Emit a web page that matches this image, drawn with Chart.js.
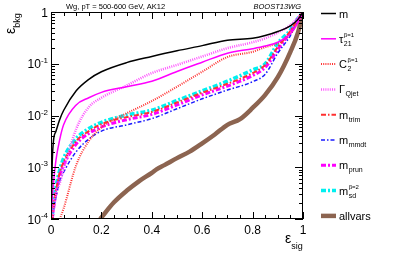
<!DOCTYPE html>
<html>
<head>
<meta charset="utf-8">
<script src="https://cdn.jsdelivr.net/npm/chart.js@4.4.1/dist/chart.umd.min.js"></script>
<style>
  html, body { margin: 0; padding: 0; background: #fff; }
  #wrap { width: 399px; height: 254px; position: relative; }
</style>
</head>
<body>
<div id="wrap"><canvas id="rocChart"></canvas></div>
<script>
// signal efficiency grid shared by the single-variable curves
const sigEff = [0, 0.005, 0.01, 0.02, 0.035, 0.05, 0.1, 0.15, 0.2, 0.3, 0.4, 0.5, 0.6, 0.7, 0.8, 0.85, 0.9, 0.95, 0.98, 1]

const bkgMass  = [1e-4, 1.3e-3, 3.3e-3, 5e-3, 8.5e-3, 0.0125, 0.030, 0.050, 0.070, 0.105, 0.138, 0.178, 0.224, 0.285, 0.31, 0.35, 0.42, 0.54, 0.72, 1]
const bkgTau21 = [1e-4, 2.5e-4, 5e-4, 1.4e-3, 3.5e-3, 6.6e-3, 0.016, 0.022, 0.028, 0.036, 0.046, 0.071, 0.107, 0.16, 0.195, 0.22, 0.26, 0.38, 0.63, 1]
const bkgC2    = [null, null, null, null, 1e-4, 1.6e-4, 1.1e-3, 3.2e-3, 5.9e-3, 0.011, 0.019, 0.036, 0.07, 0.135, 0.17, 0.21, 0.25, 0.38, 0.62, 1]
const bkgQjet  = [null, 1e-4, 1.4e-4, 3e-4, 5e-4, 9e-4, 5.5e-3, 0.0145, 0.022, 0.038, 0.066, 0.095, 0.138, 0.2, 0.26, 0.31, 0.4, 0.56, 0.78, 1]
const bkgTrim  = [null, 1e-4, 1.8e-4, 3.5e-4, 8e-4, 1.25e-3, 3.2e-3, 5e-3, 6.8e-3, 9.3e-3, 0.0117, 0.0178, 0.0275, 0.041, 0.066, 0.095, 0.21, 0.43, 0.74, 1]
const bkgMmdt  = [null, 1e-4, 1.5e-4, 2.7e-4, 5.5e-4, 8e-4, 2e-3, 3.5e-3, 5e-3, 6.6e-3, 8.7e-3, 0.0135, 0.021, 0.031, 0.045, 0.063, 0.16, 0.35, 0.68, 1]
const bkgPrun  = [null, 1e-4, 1.6e-4, 3.2e-4, 7e-4, 1.1e-3, 2.8e-3, 4.5e-3, 6e-3, 8.3e-3, 0.0105, 0.016, 0.025, 0.037, 0.059, 0.085, 0.19, 0.41, 0.72, 1]
const bkgSd    = [null, 1.1e-4, 2e-4, 4.2e-4, 9e-4, 1.5e-3, 3.6e-3, 5.6e-3, 7.4e-3, 0.0102, 0.0127, 0.0195, 0.030, 0.046, 0.076, 0.10, 0.25, 0.45, 0.76, 1]

// combined multivariate curve has its own grid
const allvarsEff = [0.195, 0.25, 0.3, 0.35, 0.4, 0.42, 0.45, 0.5, 0.55, 0.6, 0.65, 0.7, 0.75, 0.8, 0.85, 0.9, 0.95, 0.98, 1]
const allvarsBkg = [1e-4, 2.1e-4, 3.5e-4, 5.4e-4, 7.8e-4, 9.2e-4, 1.1e-3, 1.5e-3, 2e-3, 2.9e-3, 4.3e-3, 6.6e-3, 8.5e-3, 0.014, 0.025, 0.055, 0.17, 0.4, 1]

const legendNames = ["m", "τ", "C", "Γ", "m", "m", "m", "m", "allvars"]
const legendSubs = ["", "21", "2", "Qjet", "trim", "mmdt", "prun", "sd", ""]
const legendSups = ["", "β=1", "β=1", "", "", "", "", "β=2", ""]

const xTickValues = [0, 0.2, 0.4, 0.6, 0.8, 1]
const yTickValues = [1e-4, 1e-3, 1e-2, 1e-1, 1]
const yTickBase = ["10", "10", "10", "10", "1"]
const yTickExp = ["-4", "-3", "-2", "-1", ""]

const FONT = "'Liberation Sans', Arial, sans-serif"

function points(xs, ys) {
  const out = []
  xs.forEach((x, i) => {
    if (ys[i] !== null) out.push({ x: x, y: ys[i] })
  })
  return out
}

function series(i, ys, color, width, dash, xs) {
  return {
    label: legendNames[i] + legendSubs[i],
    data: points(xs || sigEff, ys),
    borderColor: color,
    backgroundColor: color,
    borderWidth: width,
    borderDash: dash,
    pointRadius: 0,
    fill: false,
    cubicInterpolationMode: "monotone"
  }
}

const rocDecor = {
  id: "rocDecor",
  afterDraw(chart) {
    const ctx = chart.ctx
    const area = chart.chartArea
    const xs = chart.scales.x
    const ys = chart.scales.y
    ctx.save()
    ctx.strokeStyle = "#000"
    ctx.lineWidth = 1

    // frame
    ctx.strokeRect(area.left + 0.5, area.top + 0.5, area.right - area.left - 1, area.bottom - area.top - 1)

    // x ticks, inward on bottom and top
    ctx.beginPath()
    for (let k = 0; k <= 20; k++) {
      const px = Math.round(xs.getPixelForValue(k * 0.05)) + 0.5
      const len = k % 4 === 0 ? 7 : 4
      ctx.moveTo(px, area.bottom)
      ctx.lineTo(px, area.bottom - len)
      ctx.moveTo(px, area.top)
      ctx.lineTo(px, area.top + len)
    }
    // y ticks, log decades, left and right
    for (let d = -4; d <= 0; d++) {
      for (let k = 1; k <= 9; k++) {
        const v = k * Math.pow(10, d)
        if (v > 1) break
        const py = Math.round(ys.getPixelForValue(v)) + 0.5
        const len = k === 1 ? 8 : 4
        ctx.moveTo(area.left, py)
        ctx.lineTo(area.left + len, py)
        ctx.moveTo(area.right, py)
        ctx.lineTo(area.right - len, py)
      }
    }
    ctx.stroke()

    // y tick labels with exponents
    ctx.fillStyle = "#000"
    ctx.textBaseline = "alphabetic"
    yTickValues.forEach((v, i) => {
      const py = ys.getPixelForValue(v)
      ctx.font = "8px " + FONT
      const ew = ctx.measureText(yTickExp[i]).width
      ctx.font = "12px " + FONT
      const bw = ctx.measureText(yTickBase[i]).width
      const right = area.left - 3
      ctx.textAlign = "left"
      ctx.fillText(yTickBase[i], right - ew - bw, py + 4.5)
      ctx.font = "8px " + FONT
      ctx.fillText(yTickExp[i], right - ew, py - 1)
    })

    // axis titles
    ctx.textAlign = "left"
    ctx.font = "14px " + FONT
    const epsW = ctx.measureText("ε").width
    ctx.fillText("ε", 285, 243)
    ctx.font = "9px " + FONT
    ctx.fillText("sig", 285 + epsW, 249)

    ctx.save()
    ctx.translate(15, 34)
    ctx.rotate(-Math.PI / 2)
    ctx.font = "14px " + FONT
    ctx.fillText("ε", 0, 0)
    ctx.font = "9px " + FONT
    ctx.fillText("bkg", epsW, 5)
    ctx.restore()

    // header
    ctx.font = "7.5px " + FONT
    ctx.fillText("Wg, pT = 500-600 GeV, AK12", 66, 8.5)
    ctx.font = "italic 7.5px " + FONT
    ctx.textAlign = "right"
    ctx.fillText("BOOST13WG", 301, 8.5)

    // legend
    ctx.textAlign = "left"
    chart.data.datasets.forEach((ds, i) => {
      const y = 13.5 + i * 25.3
      ctx.save()
      ctx.strokeStyle = ds.borderColor
      ctx.lineWidth = ds.borderWidth
      ctx.setLineDash(ds.borderDash || [])
      ctx.beginPath()
      ctx.moveTo(321, y)
      ctx.lineTo(336, y)
      ctx.stroke()
      ctx.restore()
      ctx.font = "11px " + FONT
      ctx.fillText(legendNames[i], 339, y + 4)
      const nw = ctx.measureText(legendNames[i]).width
      if (legendSubs[i]) {
        ctx.font = "7px " + FONT
        ctx.fillText(legendSubs[i], 339 + nw + 0.5, y + 7)
      }
      if (legendSups[i]) {
        ctx.font = "6px " + FONT
        ctx.fillText(legendSups[i], 339 + nw + 0.5, y - 2)
      }
    })
    ctx.restore()
  }
}

const ctx = document.getElementById("rocChart").getContext("2d")
const rocChart = new Chart(ctx, {
  type: "line",
  data: {
    datasets: [
      series(0, bkgMass, "#000000", 1.5, []),
      series(1, bkgTau21, "#ff00ff", 1.5, []),
      series(2, bkgC2, "#ff3333", 2, [1, 1.2]),
      series(3, bkgQjet, "#ff55ff", 2.5, [1, 1.2]),
      series(4, bkgTrim, "#ff3030", 2, [5, 2, 1.5, 2]),
      series(5, bkgMmdt, "#1a1aff", 1.5, [4, 2, 1.5, 2]),
      series(6, bkgPrun, "#ff00ff", 3, [5, 2, 2, 2]),
      series(7, bkgSd, "#00f0f0", 3.5, [5, 2, 2, 2]),
      series(8, allvarsBkg, "#8c6450", 4.5, [], allvarsEff)
    ]
  },
  options: {
    responsive: true,
    maintainAspectRatio: false,
    animation: false,
    events: [],
    layout: { padding: { left: 0, top: 12, right: 96, bottom: 0 } },
    plugins: {
      legend: { display: false },
      tooltip: { enabled: false },
      title: { display: false }
    },
    scales: {
      x: {
        type: "linear",
        min: 0,
        max: 1,
        afterBuildTicks: (scale) => {
          scale.ticks = xTickValues.map((v) => ({ value: v }))
        },
        afterFit: (scale) => { scale.height = 35 },
        grid: { display: false, drawTicks: false },
        border: { display: false },
        ticks: {
          autoSkip: false,
          maxRotation: 0,
          padding: 4,
          color: "#000",
          font: { family: FONT, size: 12 },
          callback: (value) => String(value)
        }
      },
      y: {
        type: "logarithmic",
        min: 1e-4,
        max: 1,
        afterBuildTicks: (scale) => {
          scale.ticks = yTickValues.map((v) => ({ value: v }))
        },
        afterFit: (scale) => { scale.width = 51 },
        grid: { display: false, drawTicks: false },
        border: { display: false },
        ticks: { display: false }
      }
    }
  },
  plugins: [rocDecor]
})
</script>
</body>
</html>
